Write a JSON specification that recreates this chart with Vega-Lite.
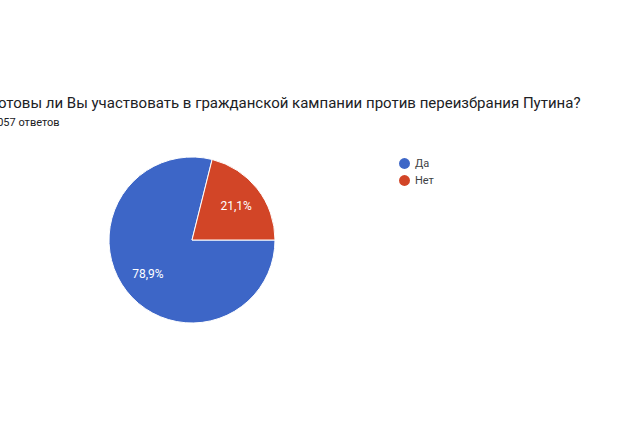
{
  "$schema": "https://vega.github.io/schema/vega-lite/v6.json",
  "autosize": "none",
  "padding": {"left": 0, "top": 150, "right": 234, "bottom": 115},
  "width": 384,
  "height": 180,
  "background": "white",
  "config": {"view": {"stroke": null}, "font": "Roboto"},
  "title": {
    "text": "Готовы ли Вы участвовать в гражданской кампании против переизбрания Путина?",
    "subtitle": "1057 ответов",
    "anchor": "start",
    "frame": "group",
    "dx": -9,
    "offset": 22,
    "limit": 800,
    "fontSize": 15,
    "fontWeight": "normal",
    "color": "#202124",
    "subtitleFontSize": 11,
    "subtitleColor": "#202124",
    "subtitlePadding": 6
  },
  "data": {
    "values": [
      {"answer": "Да", "count": 834, "label": "78,9%", "order": 1},
      {"answer": "Нет", "count": 223, "label": "21,1%", "order": 2}
    ]
  },
  "encoding": {
    "theta": {"field": "count", "type": "quantitative", "stack": true, "scale": {"range": [1.5708, 7.854]}},
    "order": {"field": "order", "type": "quantitative"},
    "color": {
      "field": "answer",
      "type": "nominal",
      "sort": ["Да", "Нет"],
      "scale": {"domain": ["Да", "Нет"], "range": ["#3d66c7", "#d24527"]},
      "legend": {
        "title": null,
        "orient": "none",
        "legendX": 399,
        "legendY": 8,
        "symbolType": "circle",
        "symbolSize": 120,
        "symbolStrokeWidth": 0,
        "symbolOpacity": 1,
        "labelFontSize": 11,
        "labelColor": "#3c4043",
        "rowPadding": 5,
        "labelOffset": 5
      }
    }
  },
  "layer": [
    {
      "mark": {"type": "arc", "outerRadius": 83, "stroke": "white", "strokeWidth": 1}
    },
    {
      "mark": {"type": "text", "radius": 56, "color": "white", "fontSize": 12, "font": "Roboto"},
      "encoding": {
        "text": {"field": "label", "type": "nominal"},
        "color": {"value": "white"}
      }
    }
  ]
}
